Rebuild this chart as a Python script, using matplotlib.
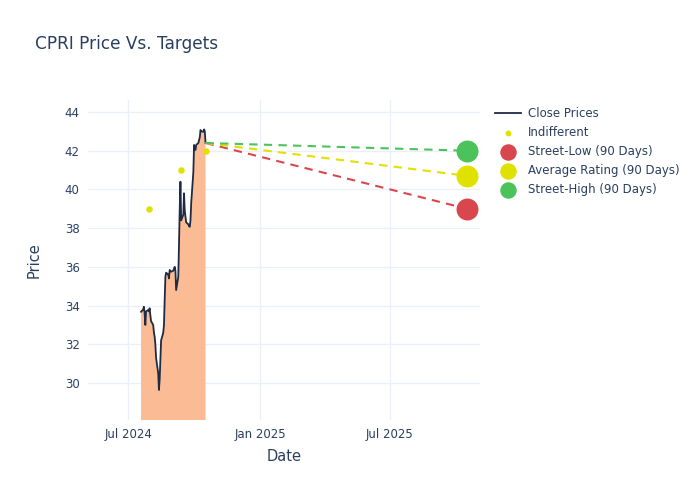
import matplotlib.pyplot as plt
import matplotlib.dates as mdates
import pandas as pd

# close prices, one per business day from 2024-07-19
start_date = "2024-07-19"
close_prices = [
    33.68, 33.8, 33.94, 33.6, 33.0, 33.7, 33.77, 33.7, 33.86, 33.5,
    33.2, 33.0, 32.6, 32.4, 32.0, 31.3, 30.5, 29.64, 30.2, 31.2,
    32.2, 32.6, 33.0, 34.3, 35.5, 35.7, 35.6, 35.4, 35.84, 35.8,
    35.75, 35.8, 35.9, 36.0, 35.8, 34.8, 35.5, 37.2, 39.0, 40.4,
    38.4, 38.7, 39.8, 38.9, 38.6, 38.3, 38.2, 38.1, 38.07, 38.4,
    39.3, 40.9, 42.3, 42.1, 42.04, 42.3, 42.4, 42.55, 42.7, 43.07,
    43.0, 42.98, 43.1, 43.0, 42.4,
]

indiff_dates = ["2024-07-30", "2024-09-13", "2024-10-17"]
indiff_prices = [39.0, 41.0, 42.0]

target_date = "2025-10-17"
street_low = 39.0
avg_rating = 40.7
street_high = 42.0

dates = pd.bdate_range(start_date, periods=len(close_prices))
indiff_dates = pd.to_datetime(indiff_dates)
target_date = pd.Timestamp(target_date)
last_date, last_close = dates[-1], close_prices[-1]

text_col = "#2a3f5f"
grid_col = "#ebf0f8"

fig = plt.figure(figsize=(7, 5), dpi=100)
ax = fig.add_axes([88 / 700, 80 / 500, 392 / 700, 320 / 500])

ax.fill_between(dates, close_prices, 0, color="#fbb98f", alpha=0.95, linewidth=0, zorder=2)
ax.plot(dates, close_prices, color="#1f2a44", linewidth=1.3, label="Close Prices", zorder=3)
ax.scatter(indiff_dates, indiff_prices, s=22, color="#e1e100", label="Indifferent", zorder=4, linewidths=0)

targets = [(street_low, "#d9474e", "Street-Low (90 Days)"),
           (avg_rating, "#e1e100", "Average Rating (90 Days)"),
           (street_high, "#4cc25a", "Street-High (90 Days)")]
for val, col, lab in targets:
    ax.plot([last_date, target_date], [last_close, val], color=col, linestyle=(0, (4, 3)),
            linewidth=1.5, zorder=3)
for val, col, lab in targets:
    ax.scatter([target_date], [val], s=250, color=col, label=lab, zorder=5, linewidths=0)

ax.set_xlim(pd.Timestamp("2024-05-06"), pd.Timestamp("2025-11-04"))
ax.set_ylim(28.09, 44.62)
ax.set_yticks(range(30, 45, 2))
ax.xaxis.set_major_locator(mdates.MonthLocator(bymonth=[1, 7]))
ax.xaxis.set_major_formatter(mdates.DateFormatter("%b %Y"))

ax.grid(True, color=grid_col, linewidth=1)
ax.set_axisbelow(True)
for s in ax.spines.values():
    s.set_visible(False)
ax.tick_params(length=0, labelsize=8.5, colors=text_col, pad=6)
ax.set_xlabel("Date", fontsize=10.5, color=text_col, labelpad=5.5)
ax.set_ylabel("Price", fontsize=10.5, color=text_col, labelpad=16.5)

fig.text(35 / 700, 1 - 44 / 500, "CPRI Price Vs. Targets", fontsize=12.2, color=text_col, va="center")

leg = ax.legend(loc="upper left", bbox_to_anchor=(1.01, 1.01), frameon=False, fontsize=8.5,
                labelcolor=text_col, handlelength=2.2, handletextpad=0.6, labelspacing=0.5,
                markerscale=0.75)
leg.legend_handles[1].set_sizes([18])

fig.savefig("out.png")
